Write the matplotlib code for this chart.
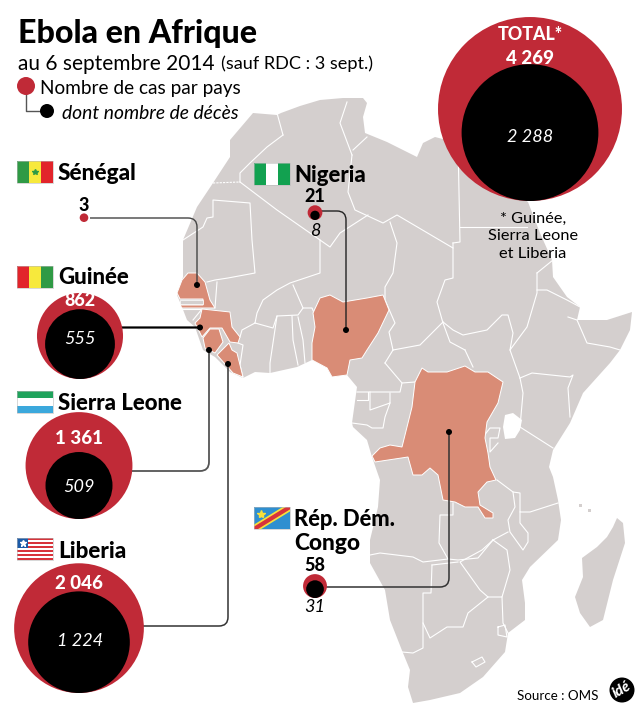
import math
import matplotlib
matplotlib.use("Agg")
import matplotlib.pyplot as plt
from matplotlib.patches import Circle, Polygon, Rectangle, PathPatch
from matplotlib.path import Path

plt.rcParams['font.family'] = ['Lato', 'DejaVu Sans']

# ---------- data ----------
countries = ["Sénégal", "Guinée", "Sierra Leone", "Liberia", "Nigeria", "Rép. Dém.", "Congo"]
cases = [3, 862, 1361, 2046, 21, 58]
deaths = [0, 555, 509, 1224, 8, 31]
case_labels = ["3", "862", "1 361", "2 046", "21", "58"]
death_labels = ["", "555", "509", "1 224", "8", "31"]
total_cases = 4269
total_deaths = 2288
total_case_label = "4 269"
total_death_label = "2 288"

# ---------- colours ----------
LAND = "#d4cfce"
HIT = "#d98c76"
RED = "#c02a37"

# ---------- map geometry (traced outlines) ----------
africa = [(253,113),(277,115),(281,113),(300,106),(320,100),(343,98),(363,98),(367,103),(363,117),(365,133),(387,142),(417,157),(423,143),(435,137),(458,143),(500,155),(510,190),(528,202),(540,233),(552,260),(553,277),(567,297),(580,307),(577,320),(607,320),(632,312),(630,330),(620,350),(610,363),(583,393),(570,423),(553,450),(549,467),(553,477),(558,500),(561,520),(558,540),(530,567),(522,580),(525,603),(525,620),(508,633),(505,652),(483,677),(460,693),(430,700),(413,703),(408,687),(410,670),(403,653),(390,620),(385,590),(370,563),(370,540),(378,507),(380,480),(372,457),(367,440),(353,427),(352,423),(357,387),(347,375),(332,377),(327,368),(312,360),(297,367),(270,373),(255,372),(243,378),(230,372),(215,357),(203,350),(195,327),(187,320),(182,307),(177,295),(183,277),(183,240),(197,207),(213,183),(230,157),(230,140)]
madagascar = [(617,518),(623,523),(625,543),(613,580),(603,620),(590,627),(580,613),(575,597),(583,577),(582,558),(597,547),(607,537),(613,527)]
comoros = [[(579,504),(582,504),(582,507),(579,507)],[(588,509),(591,509),(591,512),(588,512)]]
lake_victoria = [(505,415),(513,413),(522,420),(520,430),(515,438),(505,439),(503,427)]
drc = [(422,368),(428,372),(447,372),(465,366),(475,372),(488,372),(503,382),(498,403),(487,422),(485,438),(488,453),(490,467),(496,480),(487,482),(478,492),(480,505),(493,513),(493,518),(485,518),(478,507),(465,507),(455,502),(443,500),(438,475),(430,468),(422,475),(413,475),(408,457),(375,462),(372,456),(380,448),(390,445),(402,447),(412,407),(415,382)]
nigeria = [(320,298),(330,295),(343,302),(367,298),(383,295),(389,310),(378,333),(367,350),(362,358),(350,360),(347,375),(332,377),(327,368),(312,360),(312,343),(315,327),(313,313)]
senegal = [(188,273),(197,273),(205,282),(210,300),(215,308),(182,308),(180,305),(203,305),(203,299),(180,299),(177,293),(182,280)]
guinea = [(202,309),(230,312),(232,327),(240,337),(238,343),(230,342),(222,328),(210,328),(202,337),(195,323),(200,318)]
sierra_leone = [(210,329),(219,329),(223,342),(215,353),(205,348),(203,338)]
liberia = [(217,355),(229,343),(232,350),(237,353),(240,365),(243,377),(233,373)]
highlighted = [drc, nigeria, senegal, guinea, sierra_leone, liberia]

borders = [
 [(347,102),(340,123),(352,155)], [(367,137),(353,150)], [(352,155),(348,192),(355,210),(383,223),(397,215),(453,248)],
 [(458,143),(460,242),(453,243)], [(460,227),(527,227)], [(453,243),(453,278),(445,280),(437,302),(443,323),(450,342),(465,350)],
 [(390,222),(397,243),(393,273),(385,287),(385,300),(395,323),(389,332),(393,350)], [(393,350),(420,345),(443,322)],
 [(443,322),(453,330),(463,335),(487,330),(502,315),(508,315),(513,333),(510,350)],
 [(537,273),(537,293),(527,327),(510,350),(520,378)], [(553,260),(537,273)], [(537,290),(547,290),(567,300),(580,307)],
 [(568,317),(577,320),(587,343),(610,347),(620,350)], [(520,378),(532,373),(570,377),(573,375),(568,388),(570,417)],
 [(465,350),(473,367)], [(385,363),(402,383),(415,382)], [(393,350),(385,363)], [(402,383),(400,392),(357,392)],
 [(368,392),(368,400),(357,400)], [(370,392),(370,410),(390,403),(390,393)], [(352,423),(367,425),(372,428),(383,428),(385,417),(390,403)],
 [(520,378),(523,393),(520,427),(553,448)], [(483,437),(490,428),(500,428),(498,438),(490,438),(490,452),(498,443)],
 [(497,480),(513,492),(520,493),(520,512),(530,512),(558,503)], [(513,492),(515,507),(508,520),(510,532),(523,550),(528,542),(528,533),(520,523),(520,512)],
 [(493,540),(508,532)], [(493,540),(482,550),(460,562),(480,590),(488,597),(502,597),(510,570),(507,550),(493,540)], [(502,597),(503,623),(508,633)],
 [(498,627),(505,625),(507,637),(498,635),(498,627)], [(472,662),(482,657),(485,662),(476,667),(472,662)],
 [(432,565),(458,562)], [(432,565),(431,593),(423,593),(423,648),(413,653),(402,652)], [(423,623),(430,638),(447,627),(463,627),(468,613),(488,597)],
 [(370,555),(380,553),(413,557),(423,562),(448,559)], [(453,503),(453,515),(440,515),(439,543),(448,559),(458,560),(478,558),(493,540)],
 [(207,282),(215,280),(228,278),(255,273),(252,240),(250,203),(213,200),(213,217),(207,218),(203,227),(183,240)],
 [(283,135),(267,147),(250,163),(240,173),(240,182)], [(277,113),(283,135)], [(240,182),(277,210),(320,240),(330,247),(340,233),(368,215)],
 [(320,240),(320,273),(290,283),(277,290),(263,300),(257,313),(255,323)], [(215,308),(217,282)], [(255,323),(242,330),(240,337)],
 [(255,323),(273,328),(277,316),(298,315),(303,308),(293,285)], [(303,308),(312,308),(315,315)], [(298,317),(303,340),(305,363)],
 [(292,316),(293,340),(298,365)], [(277,316),(270,363),(270,373)], [(243,378),(240,365),(243,345),(238,343)],
 [(182,309),(202,309)], [(193,320),(202,309)],
]
dashed_borders = [[(213,183),(240,182)]]
gambia = [(180,300),(203,300),(203,304),(180,304)]

# ---------- figure ----------
fig = plt.figure(figsize=(6.4, 7.11), dpi=100)
ax = fig.add_axes([0, 0, 1, 1])
ax.set_xlim(0, 640); ax.set_ylim(711, 0); ax.axis("off")
renderer = fig.canvas.get_renderer()

for shape in [africa, madagascar] + comoros:
    ax.add_patch(Polygon(shape, closed=True, fc=LAND, ec="none", zorder=1))
ax.add_patch(Polygon(lake_victoria, closed=True, fc="white", ec="none", zorder=2))
for line in borders:
    xs, ys = zip(*line)
    ax.plot(xs, ys, color="white", lw=0.8, zorder=2, solid_joinstyle="round")
for line in dashed_borders:
    xs, ys = zip(*line)
    ax.plot(xs, ys, color="white", lw=0.8, ls=(0, (2, 1)), zorder=2)
for shape in highlighted:
    ax.add_patch(Polygon(shape, closed=True, fc=HIT, ec="white", lw=0.7, zorder=3))
ax.add_patch(Polygon(gambia, closed=True, fc=LAND, ec="white", lw=0.5, zorder=3))


def radius(v, minimum=4.3):
    return max(1.735 * v ** 0.475, minimum)


def bubble(cx, bottom, value, inner, zorder=6):
    r = radius(value)
    ax.add_patch(Circle((cx, bottom - r), r, fc=RED, ec="none", zorder=zorder))
    if inner:
        ri = radius(inner, minimum=0)
        ax.add_patch(Circle((cx, bottom - ri), ri, fc="black", ec="none", zorder=zorder + 0.1))


def connector(points, color="#222222", lw=1.0, rad=9):
    (x0, y0), (x1, y1), (x2, y2) = points
    def toward(a, b, d):
        L = math.hypot(b[0]-a[0], b[1]-a[1])
        return (a[0]+(b[0]-a[0])*d/L, a[1]+(b[1]-a[1])*d/L)
    p = toward((x1, y1), (x0, y0), rad)
    q = toward((x1, y1), (x2, y2), rad)
    path = Path([(x0, y0), p, (x1, y1), q, (x2, y2)],
                [Path.MOVETO, Path.LINETO, Path.CURVE3, Path.CURVE3, Path.LINETO])
    ax.add_patch(PathPatch(path, fc="none", ec=color, lw=lw, zorder=5))
    ax.add_patch(Circle((x2, y2), 3, fc="black", ec="none", zorder=5.5))


def label(x, y, s, size, weight="normal", style="normal", color="black", ha="left", z=8, width=None):
    t = ax.text(x, y, s, fontsize=size, fontweight=weight, fontstyle=style, color=color,
                ha=ha, va="center_baseline", zorder=z)
    if width:
        w = t.get_window_extent(renderer).width
        t.set_fontsize(size * width / w)
    return t

# titles
label(18, 31, "Ebola en Afrique", 25, "black", width=239)
label(18, 62, "au 6 septembre 2014", 15, width=197)
label(221, 62, "(sauf RDC : 3 sept.)", 12, width=151)
label(40, 87, "Nombre de cas par pays", 13, width=200)
label(62, 112, "dont nombre de décès", 13, style="italic", width=176)
ax.plot([26, 26, 42], [90, 111, 111], color="#555555", lw=1, zorder=4)
ax.add_patch(Circle((26, 86), 9, fc=RED, ec="none", zorder=5))
ax.add_patch(Circle((47, 111), 7, fc="black", ec="none", zorder=5))

# connectors
connector([(90, 218), (197, 218), (197, 285)], color="#444444")
connector([(120, 327.5), (125, 327.5), (200, 327.5)], color="black", lw=1.6, rad=2)
connector([(128, 471), (209, 471), (209, 350)], color="#555555", lw=1.3)
connector([(140, 626), (228, 626), (228, 364)], color="#333333", lw=1.1)
connector([(320, 211), (346, 211), (346, 330)], color="#222222")
connector([(322, 587), (449, 587), (449, 432)], color="#333333", lw=1.1)

# bubbles
bubble(84, 222, cases[0], deaths[0])
bubble(80, 379, cases[1], deaths[1])
bubble(79, 519, cases[2], deaths[2])
bubble(79, 693, cases[3], deaths[3])
bubble(315, 220, cases[4], deaths[4])
bubble(315, 598, cases[5], deaths[5])
bubble(530, 201, total_cases, total_deaths)

# numbers
NUM = "black"
label(84, 204, case_labels[0], 13, NUM, ha="center")
label(80, 299, case_labels[1], 13, NUM, color="white", ha="center")
label(80, 337, death_labels[1], 13, style="italic", color="white", ha="center")
label(79, 437, case_labels[2], 13.5, NUM, color="white", ha="center")
label(79, 486, death_labels[2], 13, style="italic", color="white", ha="center")
label(79, 582, case_labels[3], 13.5, NUM, color="white", ha="center")
label(80, 639, death_labels[3], 13, style="italic", color="white", ha="center")
label(315, 195, case_labels[4], 13, NUM, ha="center")
label(315, 229, death_labels[4], 13, style="italic", ha="center")
label(315, 564, case_labels[5], 13, NUM, ha="center")
label(315, 606, death_labels[5], 13, style="italic", ha="center")
label(530, 33, "TOTAL*", 14, NUM, color="white", ha="center", width=65)
label(530, 57, total_case_label, 13.5, NUM, color="white", ha="center", width=48)
label(530, 135, total_death_label, 13, style="italic", color="white", ha="center", width=46)
label(533, 217, "* Guinée,", 12, ha="center", width=66)
label(533, 235, "Sierra Leone", 12, ha="center", width=90)
label(533, 252, "et Liberia", 12, ha="center", width=67)

# country names
label(58, 172, countries[0], 16, "black", width=79)
label(58, 276, countries[1], 16, "black", width=71)
label(58, 402, countries[2], 16, "black", width=124)
label(58, 549, countries[3], 16, "black", width=68)
label(294, 174, countries[4], 16, "black", width=72)
label(294, 518, countries[5], 16, "black", width=101)
label(294, 541, countries[6], 16, "black", width=66)


# flags
def stripes_v(x, y, w, h, cols):
    for i, c in enumerate(cols):
        ax.add_patch(Rectangle((x + i * w / len(cols), y), w / len(cols), h, fc=c, ec="none", zorder=7))


def stripes_h(x, y, w, h, cols):
    for i, c in enumerate(cols):
        ax.add_patch(Rectangle((x, y + i * h / len(cols)), w, h / len(cols), fc=c, ec="none", zorder=7))


stripes_v(17, 161, 36, 22, ["#2f9a45", "#f7e93c", "#e2242b"])
ax.plot([35], [172], marker="*", ms=4, color="#2f9a45", zorder=7.5)
stripes_v(17, 266, 36, 22, ["#e2242b", "#f7e93c", "#2f9a45"])
stripes_h(17, 391, 36, 22, ["#1fa35c", "white", "#3ba8dc"])
stripes_h(17, 538, 36, 22, ["#d8333b", "white"] * 5 + ["#d8333b"])
ax.add_patch(Rectangle((17, 538), 11, 10, fc="#1c5ba8", ec="none", zorder=7.5))
ax.plot([22.5], [543], marker="*", ms=5, color="white", zorder=7.6)
stripes_v(254, 163, 36, 22, ["#12a150", "white", "#12a150"])
flagbox = Rectangle((254, 507), 36, 22, fc="#2f8fd0", ec="none", zorder=7)
ax.add_patch(flagbox)
for col, lw, zo in [("#f7e03c", 5.5, 7.1), ("#d8333b", 3, 7.2)]:
    ln, = ax.plot([250, 294], [531.5, 504.5], color=col, lw=lw, solid_capstyle="butt", zorder=zo)
    ln.set_clip_path(flagbox)
ax.plot([260.5], [513.5], marker="*", ms=6, color="#f7e03c", zorder=7.5)
for flag in [(17, 161), (17, 266), (17, 391), (17, 538), (254, 163), (254, 507)]:
    ax.add_patch(Rectangle(flag, 36, 22, fc="none", ec="#b9b9b9", lw=0.4, zorder=7.8))

# source & logo
label(517, 695, "Source : OMS", 11, width=81)
ax.add_patch(Circle((622, 690), 12.5, fc="black", ec="none", zorder=7))
ax.text(622, 690, "idé", fontsize=10.5, fontweight="black", fontstyle="italic", color="white",
        ha="center", va="center", rotation=30, zorder=8)

fig.savefig("out.png", dpi=100)
